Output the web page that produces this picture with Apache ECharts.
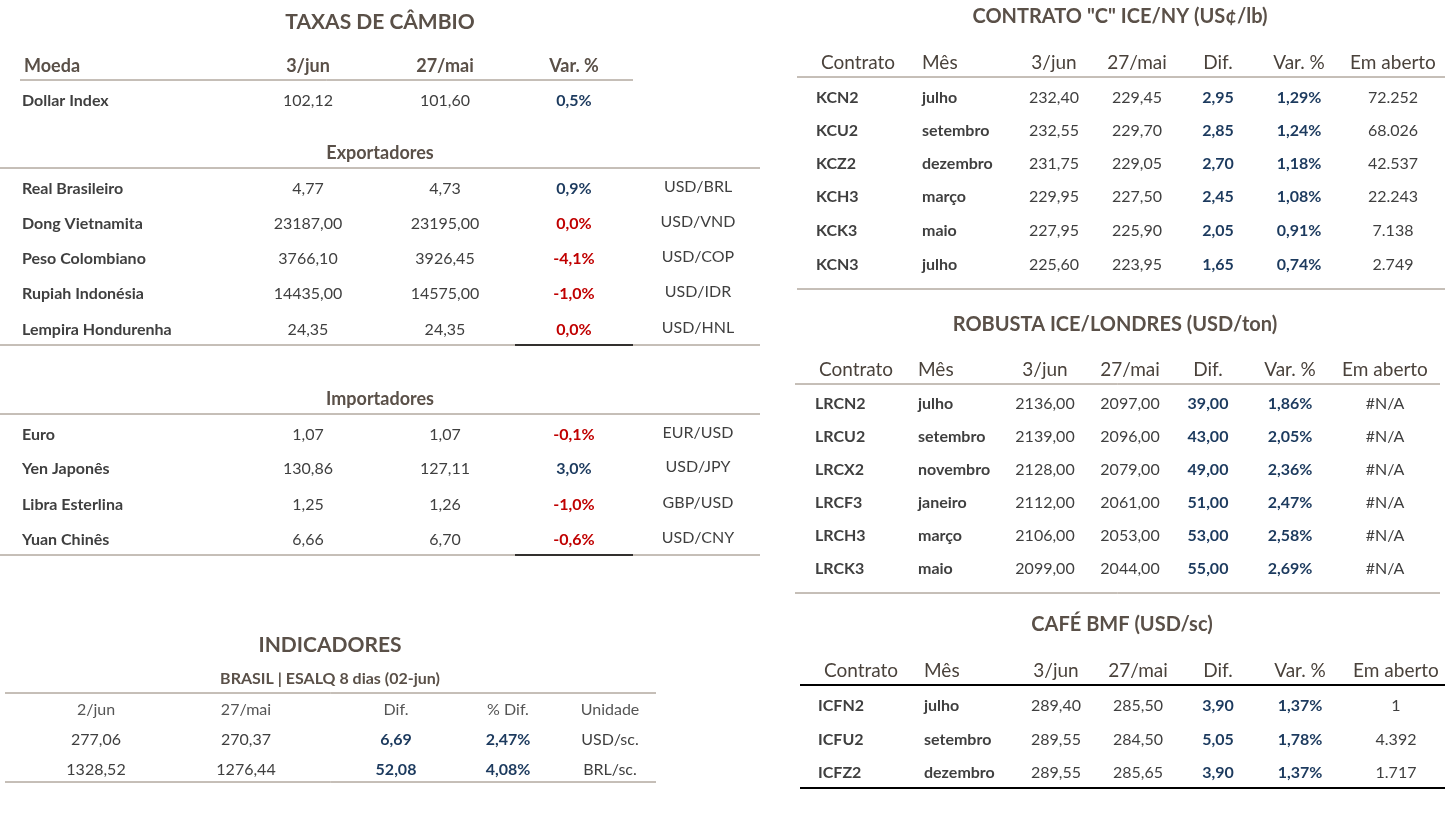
<!DOCTYPE html>
<html><head><meta charset="utf-8">
<script src="https://cdn.jsdelivr.net/npm/echarts@6/dist/echarts.min.js"></script>
<style>html,body{margin:0;background:#fff}#c{width:1449px;height:814px}</style>
</head><body><div id="c"></div>
<script>
// ---- data ----
const fxHeader = ['Moeda','3/jun','27/mai','Var. %'];
const dollarRow = ['Dollar Index','102,12','101,60','0,5%'];
const exportadores = [
 ['Real Brasileiro','4,77','4,73','0,9%','USD/BRL'],
 ['Dong Vietnamita','23187,00','23195,00','0,0%','USD/VND'],
 ['Peso Colombiano','3766,10','3926,45','-4,1%','USD/COP'],
 ['Rupiah Indonésia','14435,00','14575,00','-1,0%','USD/IDR'],
 ['Lempira Hondurenha','24,35','24,35','0,0%','USD/HNL']];
const importadores = [
 ['Euro','1,07','1,07','-0,1%','EUR/USD'],
 ['Yen Japonês','130,86','127,11','3,0%','USD/JPY'],
 ['Libra Esterlina','1,25','1,26','-1,0%','GBP/USD'],
 ['Yuan Chinês','6,66','6,70','-0,6%','USD/CNY']];
const indHeader = ['2/jun','27/mai','Dif.','% Dif.','Unidade'];
const indRows = [['277,06','270,37','6,69','2,47%','USD/sc.'],['1328,52','1276,44','52,08','4,08%','BRL/sc.']];
const futHeader = ['Contrato','Mês','3/jun','27/mai','Dif.','Var. %','Em aberto'];
const iceNY = [
 ['KCN2','julho','232,40','229,45','2,95','1,29%','72.252'],
 ['KCU2','setembro','232,55','229,70','2,85','1,24%','68.026'],
 ['KCZ2','dezembro','231,75','229,05','2,70','1,18%','42.537'],
 ['KCH3','março','229,95','227,50','2,45','1,08%','22.243'],
 ['KCK3','maio','227,95','225,90','2,05','0,91%','7.138'],
 ['KCN3','julho','225,60','223,95','1,65','0,74%','2.749']];
const robusta = [
 ['LRCN2','julho','2136,00','2097,00','39,00','1,86%','#N/A'],
 ['LRCU2','setembro','2139,00','2096,00','43,00','2,05%','#N/A'],
 ['LRCX2','novembro','2128,00','2079,00','49,00','2,36%','#N/A'],
 ['LRCF3','janeiro','2112,00','2061,00','51,00','2,47%','#N/A'],
 ['LRCH3','março','2106,00','2053,00','53,00','2,58%','#N/A'],
 ['LRCK3','maio','2099,00','2044,00','55,00','2,69%','#N/A']];
const bmf = [
 ['ICFN2','julho','289,40','285,50','3,90','1,37%','1'],
 ['ICFU2','setembro','289,55','284,50','5,05','1,78%','4.392'],
 ['ICFZ2','dezembro','289,55','285,65','3,90','1,37%','1.717']];

// ---- drawing ----
const F='Lato, "Noto Sans", sans-serif';
const TITLE='#5a5048', TXT='#3f3f3f', BLUE='#1c3a5e', RED='#c00000', LINE='#8c7f70';
const g=[];
function t(x,y,s,o={}){g.push({type:'text',x,y,style:{text:s,fontFamily:F,fontSize:o.size||16,fontWeight:o.bold?'bold':'normal',fill:o.color||TXT,align:o.align||'center',verticalAlign:'middle'}});}
function l(x1,x2,y,o={}){g.push({type:'line',shape:{x1,y1:y,x2,y2:y},style:{stroke:o.color||LINE,lineWidth:o.w||1}});}
const vc=s=>(s.startsWith('-')||parseFloat(s.replace(',','.'))===0)?RED:BLUE;

t(380,22,'TAXAS DE CÂMBIO',{size:21,bold:true,color:TITLE});
const fxX=[24,308,445,574,698];
t(fxX[0],66,fxHeader[0],{align:'left',size:18,bold:true,color:TITLE});
for(let i=1;i<4;i++) t(fxX[i],66,fxHeader[i],{size:18,bold:true,color:TITLE});
l(20,633,80);
function fxRow(r,y){t(22,y,r[0],{align:'left',bold:true});t(fxX[1],y,r[1]);t(fxX[2],y,r[2]);t(fxX[3],y,r[3],{bold:true,color:vc(r[3])});if(r[4])t(fxX[4],y-2,r[4]);}
fxRow(dollarRow,101);
t(380,153,'Exportadores',{size:18,bold:true,color:TITLE}); l(0,760,168);
[189,224,259,294,330].forEach((y,i)=>fxRow(exportadores[i],y));
l(0,760,345); l(515,633,345,{color:'#000',w:1.5});
t(380,399,'Importadores',{size:18,bold:true,color:TITLE}); l(0,760,414);
[435,469,505,540].forEach((y,i)=>fxRow(importadores[i],y));
l(0,760,555); l(515,633,555,{color:'#000',w:1.5});

t(330,645,'INDICADORES',{size:21,bold:true,color:TITLE});
t(330,679,'BRASIL | ESALQ 8 dias (02-jun)',{size:16,bold:true,color:TITLE});
l(5,656,693);
const indX=[96,246,396,508,610];
indHeader.forEach((h,i)=>t(indX[i],710,h,{color:'#555'}));
[740,770].forEach((y,j)=>indRows[j].forEach((v,i)=>t(indX[i],y,v,{bold:i==2||i==3,color:(i==2||i==3)?BLUE:TXT})));
l(5,656,782);

function fut(title,ty,hy,rows,ys,X,o){
 t(X.tc,ty,title,{size:20,bold:true,color:TITLE});
 futHeader.forEach((h,i)=>t(i==1?X.c[1]:X.c[i],hy,h,{size:19,color:'#4a423b',align:i==1?'left':'center'}));
 l(X.l,X.r,hy+14,o.hl||{});
 rows.forEach((r,j)=>{const y=ys[j];
  t(X.c0,y,r[0],{align:'left',bold:true});
  t(X.c[1],y,r[1],{align:'left',bold:true});
  t(X.c[2],y,r[2]); t(X.c[3],y,r[3]);
  t(X.c[4],y,r[4],{bold:true,color:BLUE}); t(X.c[5],y,r[5],{bold:true,color:BLUE});
  t(X.c[6],y,r[6]);});
 l(X.l,X.r,o.by,o.bl||{});
}
fut('CONTRATO "C" ICE/NY (US¢/lb)',17,63,iceNY,[98,131,164,197,231,265],
 {tc:1120,l:797,r:1445,c0:816,c:[858,922,1054,1137,1218,1299,1393]},{by:289});
fut('ROBUSTA ICE/LONDRES (USD/ton)',325,370,robusta,[404,437,470,503,536,569],
 {tc:1115,l:795,r:1440,c0:815,c:[856,918,1045,1130,1208,1290,1385]},{by:593});
fut('CAFÉ BMF (USD/sc)',625,671,bmf,[706,740,773],
 {tc:1122,l:800,r:1445,c0:818,c:[861,924,1056,1138,1218,1300,1396]},{by:788,hl:{color:'#000',w:2},bl:{color:'#000',w:2}});

const chart=echarts.init(document.getElementById('c'));
chart.setOption({backgroundColor:'#fff',graphic:g});
</script></body></html>
